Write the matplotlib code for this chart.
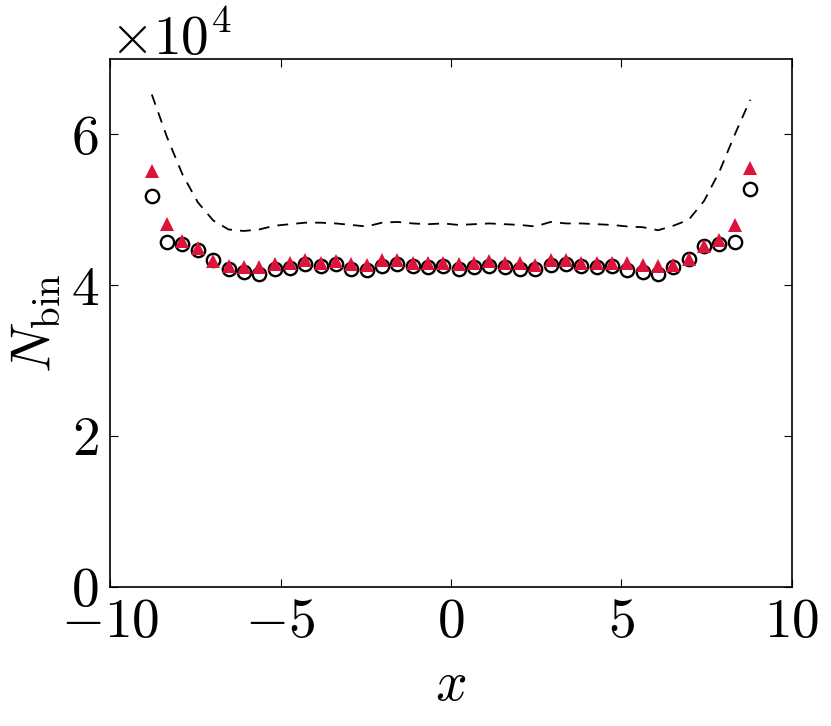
import numpy as np
import matplotlib
matplotlib.use("Agg")
import matplotlib.pyplot as plt

plt.rcParams["font.family"] = "cmr10"
plt.rcParams["mathtext.fontset"] = "cm"
plt.rcParams["axes.formatter.use_mathtext"] = True
plt.rcParams["axes.unicode_minus"] = True

# bin centres (40 bins of width 0.45 on [-9, 9])
x_bins = [-8.775 + 0.45 * i for i in range(40)]

# circles (black, open)
n_circle = [5.19, 4.57, 4.55, 4.47, 4.33, 4.21, 4.18, 4.15, 4.22, 4.23,
            4.28, 4.26, 4.28, 4.22, 4.20, 4.26, 4.28, 4.25, 4.24, 4.25,
            4.22, 4.24, 4.26, 4.24, 4.22, 4.21, 4.27, 4.28, 4.26, 4.24,
            4.25, 4.20, 4.17, 4.15, 4.24, 4.35, 4.52, 4.55, 4.57, 5.28]

# triangles (red, filled)
n_triangle = [5.52, 4.81, 4.59, 4.50, 4.32, 4.26, 4.24, 4.24, 4.28, 4.29,
              4.33, 4.30, 4.32, 4.28, 4.27, 4.33, 4.33, 4.30, 4.30, 4.30,
              4.28, 4.30, 4.32, 4.30, 4.30, 4.27, 4.33, 4.33, 4.30, 4.30,
              4.30, 4.29, 4.27, 4.25, 4.27, 4.35, 4.52, 4.60, 4.80, 5.55]

# dashed reference curve
n_dashed = [6.53, 5.96, 5.47, 5.10, 4.86, 4.74, 4.72, 4.74, 4.79, 4.81,
            4.83, 4.83, 4.82, 4.80, 4.78, 4.83, 4.84, 4.82, 4.81, 4.82,
            4.80, 4.81, 4.82, 4.81, 4.80, 4.78, 4.84, 4.82, 4.82, 4.81,
            4.80, 4.78, 4.77, 4.73, 4.79, 4.87, 5.12, 5.51, 6.00, 6.46]

x = np.array(x_bins)
circ = np.array(n_circle) * 1e4
tri = np.array(n_triangle) * 1e4
dash = np.array(n_dashed) * 1e4

fig = plt.figure(figsize=(8.31, 7.26), dpi=100)
ax = fig.add_axes([0.1324, 0.1915, 0.8206, 0.7272])

ax.plot(x, dash, color="black", linestyle="--", dashes=(6, 4.5), linewidth=1.3)
ax.plot(x, circ, linestyle="none", marker="o", markersize=9.6,
        markerfacecolor="none", markeredgecolor="black", markeredgewidth=1.7)
ax.plot(x, tri, linestyle="none", marker="^", markersize=10.2,
        color="#DC143C", markeredgewidth=0)

ax.set_xlim(-10, 10)
ax.set_ylim(0, 7e4)
ax.set_xticks([-10, -5, 0, 5, 10])
ax.set_yticks([0, 2e4, 4e4, 6e4])

ax.ticklabel_format(axis="y", style="sci", scilimits=(0, 0))
ax.tick_params(direction="in", length=6, width=0.8, top=True, right=True,
               labelsize=40, pad=8)
ax.yaxis.get_offset_text().set_fontsize(40)
for s in ax.spines.values():
    s.set_linewidth(1.2)

ax.set_xlabel(r"$x$", fontsize=40, labelpad=10)
ax.set_ylabel(r"$N_{\rm bin}$", fontsize=40, labelpad=6)

fig.savefig("out.png", dpi=100)
